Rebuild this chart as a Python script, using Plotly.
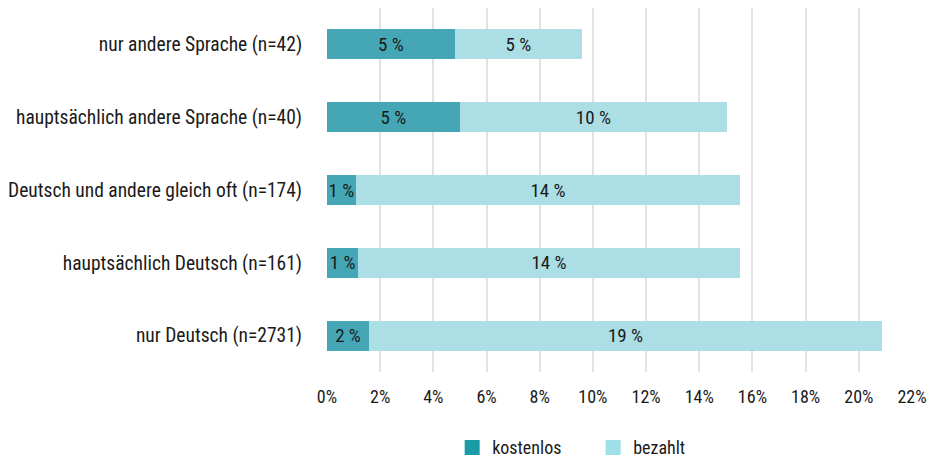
import plotly.graph_objects as go

categories = [
    "nur andere Sprache (n=42)",
    "hauptsächlich andere Sprache (n=40)",
    "Deutsch und andere gleich oft (n=174)",
    "hauptsächlich Deutsch (n=161)",
    "nur Deutsch (n=2731)",
]
kostenlos = [4.81, 5.0, 1.09, 1.17, 1.58]
bezahlt = [4.78, 10.04, 14.44, 14.36, 19.29]
tick_vals = list(range(0, 23, 2))
tick_text = [f"{v}%" for v in tick_vals]

FONT = "Roboto Condensed, Liberation Sans Narrow, Arial Narrow, Roboto, sans-serif"
series = [
    ("kostenlos", kostenlos, "#45a7b5", "#1a9ba6"),
    ("bezahlt", bezahlt, "#acdee5", "#9fe0e8"),
]

fig = go.Figure()
for name, vals, bar_col, leg_col in series:
    fig.add_trace(go.Bar(
        y=categories, x=vals, orientation="h", name=name,
        marker=dict(color=bar_col, line=dict(width=0)),
        text=[f"{round(v)} %" for v in vals], textposition="inside", textangle=0,
        insidetextanchor="middle", textfont=dict(size=19, color="#1a1a1a", family=FONT),
        showlegend=False, hoverinfo="skip", width=0.41,
    ))
for name, vals, bar_col, leg_col in series:
    fig.add_trace(go.Scatter(
        x=[None], y=[None], mode="markers", name=name,
        marker=dict(symbol="square", size=15, color=leg_col),
    ))

fig.update_layout(
    barmode="stack",
    width=934, height=459,
    margin=dict(l=327, r=22, t=8, b=87, autoexpand=False),
    paper_bgcolor="white", plot_bgcolor="white",
    font=dict(family=FONT, size=18, color="#1a1a1a"),
    uniformtext=dict(minsize=19, mode="show"),
    xaxis=dict(range=[0, 22], tickvals=tick_vals, ticktext=tick_text,
               showgrid=True, gridcolor="#e2e2e2", gridwidth=1.5,
               zeroline=False, showline=False, tickfont=dict(size=18),
               ticks="outside", ticklen=8, tickcolor="rgba(0,0,0,0)",
               automargin=False),
    yaxis=dict(categoryorder="array", categoryarray=categories[::-1],
               showgrid=False, zeroline=False, showline=False,
               ticks="outside", ticklen=20, tickcolor="rgba(0,0,0,0)",
               tickfont=dict(size=19.5), automargin=False),
    legend=dict(orientation="h", x=0.455, xanchor="center", y=-0.208, yanchor="middle",
                font=dict(size=18), itemwidth=30, traceorder="normal", entrywidth=96),
)

fig.write_html("out.html", post_script="document.body.style.margin='0';",
               config={"displayModeBar": False})
